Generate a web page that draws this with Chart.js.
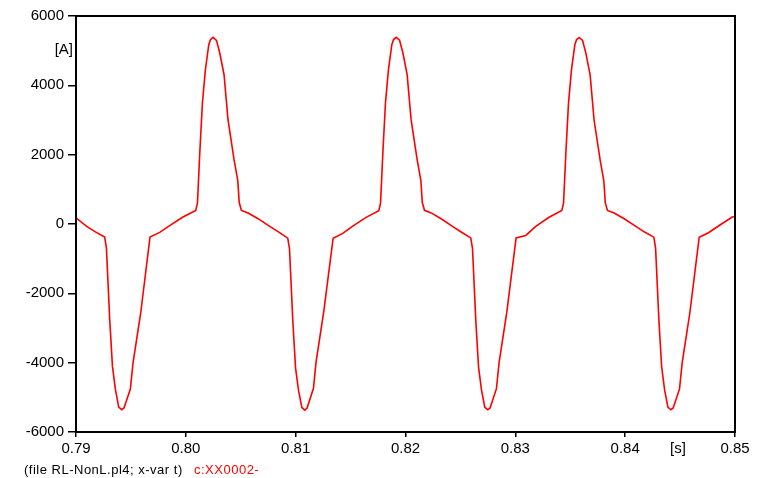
<!DOCTYPE html>
<html>
<head>
<meta charset="utf-8">
<script src="https://cdn.jsdelivr.net/npm/chart.js@4/dist/chart.umd.min.js"></script>
<style>
	html, body {margin: 0; padding: 0; background: #ffffff;}
	#wrap {position: relative; width: 764px; height: 478px;}
	.foot {position: absolute; top: 462px; font: 13px "Liberation Sans", Arial, sans-serif; letter-spacing: 0.5px; white-space: pre;}
	#file {left: 24px; color: #000;}
	#curve {left: 194px; color: #ff0000;}
</style>
</head>
<body>
<div id="wrap">
	<canvas id="chart" width="764" height="478"></canvas>
	<div class="foot" id="file">(file RL-NonL.pl4; x-var t)</div>
	<div class="foot" id="curve">c:XX0002-</div>
</div>
<script>
// time samples [s]
const times = [
	0.79000, 0.79097, 0.79173,
	0.79261, 0.79277, 0.79307, 0.79332, 0.79359, 0.79389, 0.79416, 0.79437, 0.79495, 0.79519, 0.79589, 0.79674,
	0.79762, 0.79853, 0.79974, 0.80090,
	0.80106, 0.80127, 0.80151, 0.80178, 0.80209, 0.80224, 0.80248, 0.80279, 0.80309, 0.80348, 0.80384, 0.80439,
	0.80473, 0.80486, 0.80506, 0.80567, 0.80658, 0.80764, 0.80840,
	0.80928, 0.80944, 0.80974, 0.80999, 0.81026, 0.81056, 0.81083, 0.81104, 0.81162, 0.81186, 0.81256, 0.81341,
	0.81429, 0.81520, 0.81641, 0.81757,
	0.81773, 0.81794, 0.81818, 0.81845, 0.81876, 0.81891, 0.81915, 0.81946, 0.81976, 0.82015, 0.82051, 0.82106,
	0.82140, 0.82153, 0.82173, 0.82234, 0.82325, 0.82431, 0.82507,
	0.82594, 0.82610, 0.82640, 0.82665, 0.82692, 0.82722, 0.82749, 0.82770, 0.82828, 0.82852, 0.82922, 0.83007,
	0.83095, 0.83186, 0.83307, 0.83423,
	0.83439, 0.83460, 0.83484, 0.83511, 0.83542, 0.83557, 0.83581, 0.83612, 0.83642, 0.83681, 0.83717, 0.83772,
	0.83806, 0.83819, 0.83839, 0.83900, 0.83991, 0.84097, 0.84173,
	0.84261, 0.84277, 0.84307, 0.84332, 0.84359, 0.84389, 0.84416, 0.84437, 0.84495, 0.84519, 0.84589, 0.84674,
	0.84762, 0.84853, 0.84974, 0.85000
];

// current c:XX0002- [A]
const current = [
	180, -69, -220,
	-375, -690, -2760, -4107, -4780, -5280, -5356, -5307, -4760, -4010, -2567, -375,
	-242, -49, 202, 392,
	606, 2048, 3490, 4450, 5172, 5316, 5382, 5296, 4932, 4306, 3008, 1855,
	1250, 620, 392, 317, 153, -69, -220,
	-410, -720, -2800, -4150, -4800, -5290, -5370, -5310, -4740, -3980, -2520, -410,
	-270, -60, 190, 385,
	610, 2070, 3510, 4460, 5180, 5320, 5385, 5300, 4940, 4310, 3010, 1860,
	1250, 620, 395, 320, 150, -75, -230,
	-400, -700, -2780, -4120, -4790, -5285, -5360, -5305, -4750, -4000, -2550, -400,
	-330, -70, 195, 390,
	600, 2040, 3480, 4445, 5170, 5315, 5380, 5295, 4930, 4300, 3000, 1850,
	1240, 610, 390, 315, 150, -70, -225,
	-380, -695, -2770, -4110, -4785, -5282, -5358, -5306, -4758, -4008, -2560, -380,
	-245, -50, 200, 215
];

const xTicks = [0.79, 0.80, 0.81, 0.82, 0.83, 0.84, 0.85];
const yTicks = [-6000, -4000, -2000, 0, 2000, 4000, 6000];

const points = times.map((t, i) => ({x: t, y: current[i]}));
const tickFont = {family: '"Liberation Sans", Arial, sans-serif', size: 15};

// box around the plot plus the unit labels
const frame = {
	id: 'frame',
	afterDraw(chart) {
		const {ctx, chartArea: a} = chart;
		ctx.save();
		ctx.strokeStyle = '#000';
		ctx.lineWidth = 2;
		ctx.strokeRect(a.left, a.top, a.right - a.left, a.bottom - a.top);
		ctx.fillStyle = '#000';
		ctx.font = '15px "Liberation Sans", Arial, sans-serif';
		ctx.textBaseline = 'middle';
		ctx.textAlign = 'right';
		ctx.fillText('[A]', 73, 50);
		ctx.textAlign = 'center';
		ctx.fillText('[s]', 678, 449);
		ctx.restore();
	}
};

let ctx = document.getElementById('chart').getContext('2d');
let chart = new Chart(ctx, {
	type: 'line',
	data: {
		datasets: [{
			data: points,
			borderColor: '#ff0000',
			borderWidth: 1.6,
			pointRadius: 0,
			tension: 0,
			fill: false
		}]
	},
	options: {
		responsive: false,
		animation: false,
		layout: {padding: {left: 0, top: 16, right: 29, bottom: 0}},
		plugins: {
			legend: {display: false},
			tooltip: {enabled: false}
		},
		scales: {
			x: {
				type: 'linear',
				min: 0.79,
				max: 0.85,
				afterFit: s => { s.height = 46; },
				afterBuildTicks: s => { s.ticks = xTicks.map(v => ({value: v})); },
				grid: {drawOnChartArea: false, drawTicks: true, tickLength: 5, color: '#000', lineWidth: 1.5},
				border: {display: true, color: '#000', width: 2},
				ticks: {
					color: '#000',
					font: tickFont,
					padding: 3,
					maxRotation: 0,
					callback: v => v.toFixed(2)
				}
			},
			y: {
				min: -6000,
				max: 6000,
				afterFit: s => { s.width = 76; },
				afterBuildTicks: s => { s.ticks = yTicks.map(v => ({value: v})); },
				grid: {drawOnChartArea: false, drawTicks: true, tickLength: 8, color: '#000', lineWidth: 1.5},
				border: {display: true, color: '#000', width: 2},
				ticks: {
					color: '#000',
					font: tickFont,
					padding: 4,
					callback: v => String(v)
				}
			}
		}
	},
	plugins: [frame]
});
</script>
</body>
</html>
